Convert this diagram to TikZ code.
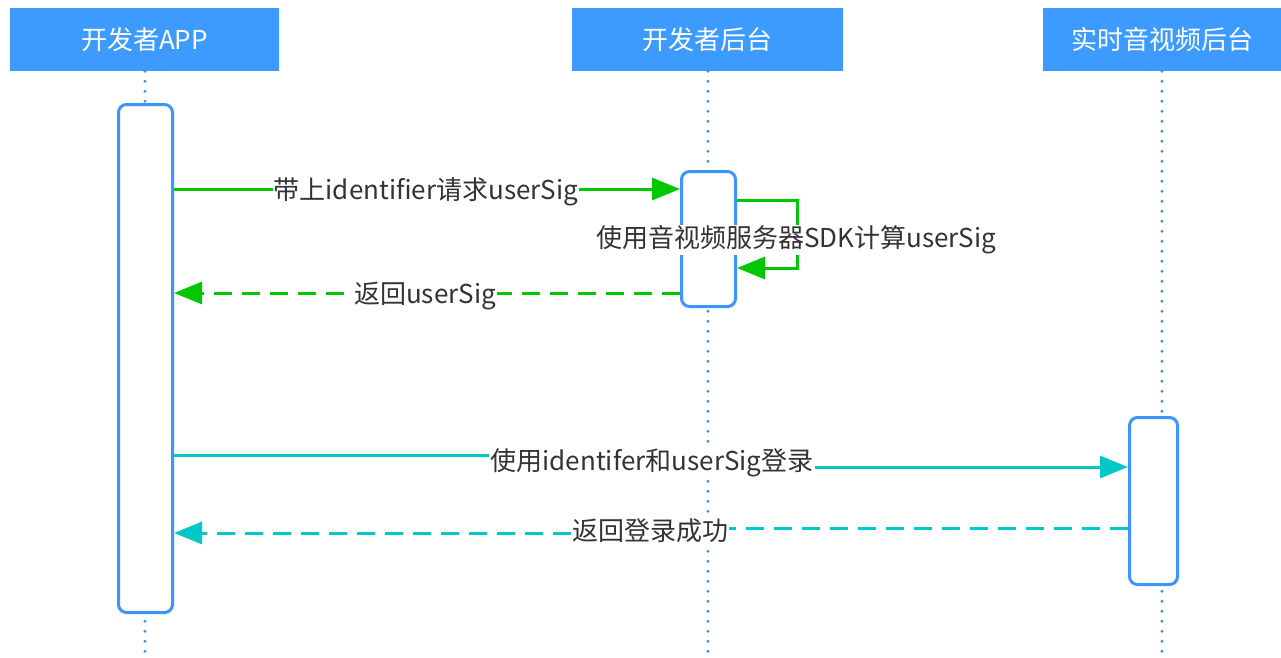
\documentclass[tikz,border=0pt]{standalone}
\usepackage{fontspec}
\setmainfont{Noto Sans CJK SC}
\usetikzlibrary{arrows.meta}
\definecolor{hdrblue}{HTML}{3D9BFF}
\definecolor{lifeblue}{HTML}{3D8EF8}
\definecolor{boxblue}{HTML}{3D94FF}
\definecolor{msggreen}{HTML}{00C800}
\definecolor{msgcyan}{HTML}{00C8C8}
\definecolor{txtgray}{HTML}{333333}
\tikzset{
  header/.style={rectangle, fill=hdrblue, text=white, inner sep=0pt,
    minimum height=63pt, font=\fontsize{26}{30}\selectfont},
  lifeline/.style={draw=lifeblue, line width=3.2pt, line cap=round,
    dash pattern=on 0pt off 10pt},
  actbox/.style={rectangle, draw=boxblue, fill=white, line width=3pt,
    rounded corners=8pt, inner sep=0pt},
  lbl/.style={fill=white, text=txtgray, inner sep=1pt,
    font=\fontsize{26}{30}\selectfont},
  tip/.style={-{Triangle[length=28pt,width=22pt]}},
  gsolid/.style={draw=msggreen, line width=3pt},
  gdash/.style={draw=msggreen, line width=3pt, dash pattern=on 18pt off 10pt},
  csolid/.style={draw=msgcyan, line width=3pt},
  cdash/.style={draw=msgcyan, line width=3pt, dash pattern=on 18pt off 10pt},
}
\begin{document}
\begin{tikzpicture}[x=1pt,y=-1pt]
\useasboundingbox (0,0) rectangle (1281,657);
% headers
\node[header, minimum width=269pt] (h1) at (144.5,39.5) {开发者APP};
\node[header, minimum width=271pt] (h2) at (707.5,39.5) {开发者后台};
\node[header, minimum width=238pt] (h3) at (1162,39.5) {实时音视频后台};
% lifeline ends
\coordinate (e1) at (145,657);
\coordinate (e2) at (708,657);
\coordinate (e3) at (1162,657);
\draw[lifeline] (h1.south -| e1) -- (e1);
\draw[lifeline] (h2.south -| e2) -- (e2);
\draw[lifeline] (h3.south -| e3) -- (e3);
% activation boxes
\node[actbox, minimum width=54pt, minimum height=508pt] (a1) at (145.5,358.5) {};
\node[actbox, minimum width=54pt, minimum height=135pt] (a2) at (708.5,239) {};
\node[actbox, minimum width=48pt, minimum height=167pt] (a3) at (1153.5,501) {};
% message levels
\coordinate (y1) at (0,189);
\coordinate (y2) at (0,293);
\coordinate (y3a) at (0,455);
\coordinate (y3b) at (0,467);
\coordinate (y4a) at (0,528);
\coordinate (y4b) at (0,533);
\coordinate (s1) at (797,200);
\coordinate (s2) at (797,268);
% request
\draw[gsolid, tip] (a1.east |- y1) -- (a2.west |- y1);
\node[lbl] (l1) at (426,192) {带上identifier请求userSig};
% self loop
\draw[gsolid, tip] (a2.east |- s1) -- (s1) -- (s2) -- (a2.east |- s2);
\node[lbl] (l2) at (796,240) {使用音视频服务器SDK计算userSig};
% return userSig
\draw[gdash, tip] (a2.west |- y2) -- (a1.east |- y2);
\node[lbl] (l3) at (425,296) {返回userSig};
% login
\node[lbl] (l4) at (652,463) {使用identifer和userSig登录};
\draw[csolid] (a1.east |- y3a) -- (l4.west |- y3a);
\draw[csolid, tip] (l4.east |- y3b) -- (a3.west |- y3b);
% login success
\node[lbl] (l5) at (650,531) {返回登录成功};
\draw[cdash] (a3.west |- y4a) -- (l5.east |- y4a);
\draw[cdash, tip] (l5.west |- y4b) -- (a1.east |- y4b);
\end{tikzpicture}
\end{document}
